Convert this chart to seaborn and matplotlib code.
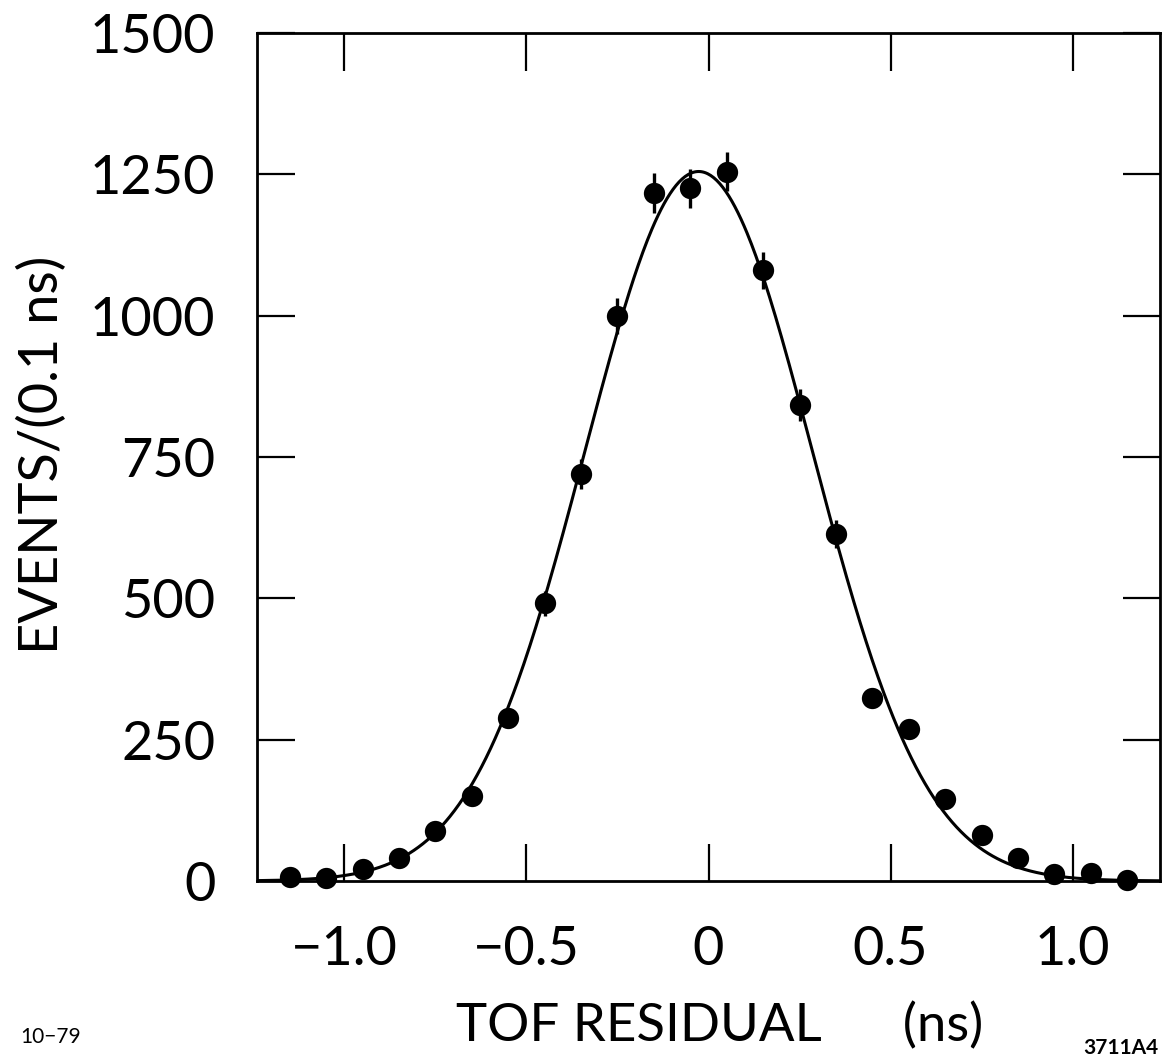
import numpy as np
import pandas as pd
import matplotlib
matplotlib.use("Agg")
import matplotlib.pyplot as plt
import seaborn as sns

# ---- data ----
tof_bins = [-1.15, -1.05, -0.95, -0.85, -0.75, -0.65, -0.55, -0.45, -0.35, -0.25,
            -0.15, -0.05, 0.05, 0.15, 0.25, 0.35, 0.45, 0.55, 0.65, 0.75,
            0.85, 0.95, 1.05, 1.15]
events = [7, 5, 21, 40, 88, 150, 289, 491, 720, 1000,
          1217, 1225, 1255, 1080, 842, 614, 324, 269, 145, 81,
          41, 12, 14, 2]
event_err = [3, 2, 5, 6, 9, 12, 17, 22, 27, 32,
             35, 35, 35, 33, 29, 25, 18, 16, 12, 9,
             6, 3, 4, 1]

# fitted gaussian curve parameters
fit_amp = 1255.0
fit_mu = -0.027
fit_sigma = 0.312

x_ticks = [-1.0, -0.5, 0.0, 0.5, 1.0]
x_ticklabels = ["\u22121.0", "\u22120.5", "0", "0.5", "1.0"]
y_ticks = [0, 250, 500, 750, 1000, 1250, 1500]
y_ticklabels = ["0", "250", "500", "750", "1000", "1250", "1500"]

sns.set_theme(style="white")
plt.rcParams["font.family"] = ["Lato", "DejaVu Sans"]
plt.rcParams["font.weight"] = "normal"
plt.rcParams["text.color"] = "black"

W, H = 1163, 1057
fig = plt.figure(figsize=(W / 100, H / 100), dpi=100)
ax = fig.add_axes([257 / W, 1 - 881 / H, (1160 - 257) / W, (881 - 33) / H])

df = pd.DataFrame({"x": tof_bins, "y": events, "err": event_err})
xs = np.linspace(-1.24, 1.24, 600)
curve = pd.DataFrame({"x": xs, "y": fit_amp * np.exp(-0.5 * ((xs - fit_mu) / fit_sigma) ** 2)})

sns.lineplot(data=curve, x="x", y="y", ax=ax, color="black", linewidth=2.2)
ax.errorbar(df["x"], df["y"], yerr=df["err"], fmt="none", ecolor="black",
            elinewidth=2.4, capsize=0, clip_on=False, zorder=3)
sns.scatterplot(data=df, x="x", y="y", ax=ax, color="black", s=235,
                edgecolor="black", linewidth=0, clip_on=False, zorder=4)

ax.set_xlim(-1.24, 1.24)
ax.set_ylim(0, 1500)
ax.set_xticks(x_ticks)
ax.set_xticklabels(x_ticklabels)
ax.set_yticks(y_ticks)
ax.set_yticklabels(y_ticklabels)

for s in ax.spines.values():
    s.set_visible(True)
    s.set_color("black")
    s.set_linewidth(2.0)

ax.tick_params(axis="both", which="major", direction="in", length=27, width=1.6,
               color="black", top=True, right=True, bottom=True, left=True,
               labelsize=39, labelcolor="black")
ax.tick_params(axis="y", pad=30)
ax.tick_params(axis="x", pad=32)

ax.set_xlabel("TOF RESIDUAL      (ns)", fontsize=38, color="black")
ax.xaxis.label.set_va("center")
ax.xaxis.set_label_coords((720 - 257) / 903, (881 - 1026) / 848)

ax.set_ylabel("EVENTS/(0.1 ns)", fontsize=39, color="black")
ax.yaxis.label.set_va("center")
ax.yaxis.set_label_coords((42 - 257) / 903, (881 - 455) / 848)

fig.text(51 / W, 1 - 1037 / H, "10\u221279", fontsize=15, ha="center", va="center",
         color="black")
fig.text(1121 / W, 1 - 1048 / H, "3711A4", fontsize=15, ha="center", va="center",
         fontweight="bold", color="black")

fig.savefig("out.png", dpi=100, facecolor="white")
